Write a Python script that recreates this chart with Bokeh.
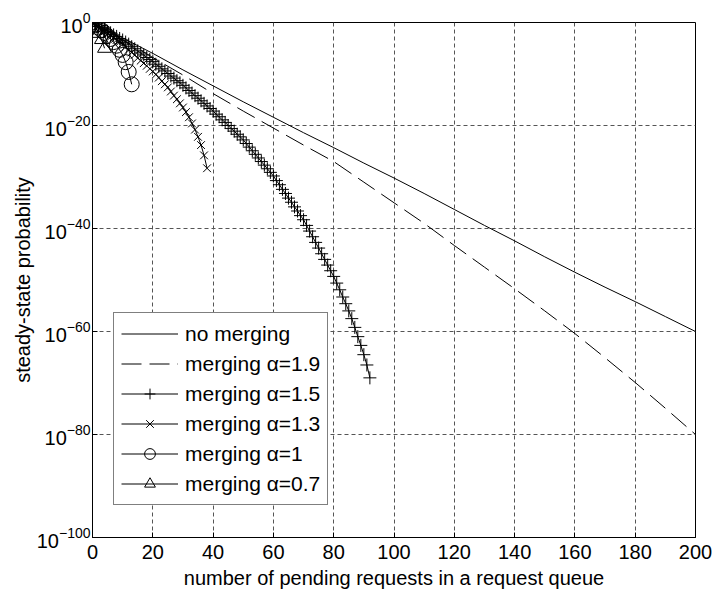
from bokeh.plotting import figure
from bokeh.models import Legend, LegendItem, FixedTicker, Range1d
from bokeh.embed import file_html
from bokeh.resources import INLINE

# Steady-state queue-length distributions, values are log10 of the probability
n_no_merge = [0, 10, 20, 30, 40, 50, 60, 70, 80, 90, 100,
              110, 120, 130, 140, 150, 160, 170, 180, 190, 200]
logp_no_merge = [0.0, -3.0, -6.0, -9.2, -12.3, -15.4, -18.4, -21.4, -24.3, -27.3, -30.2,
                 -33.2, -36.3, -39.4, -42.4, -45.5, -48.5, -51.4, -54.2, -57.1, -60.0]

n_a19 = [0, 10, 20, 30, 40, 50, 60, 70, 80, 90, 100,
         110, 120, 130, 140, 150, 160, 170, 180, 190, 200]
logp_a19 = [0.0, -3.3, -6.8, -10.2, -13.8, -17.2, -20.5, -23.8, -27.0, -31.0, -35.0,
            -39.0, -43.3, -47.5, -51.7, -56.0, -60.4, -65.1, -69.9, -74.9, -80.0]

n_a15 = list(range(0, 93))
logp_a15 = [0.0, -0.3, -0.7, -1.0, -1.4, -1.7, -2.0, -2.4, -2.7, -3.1, -3.4,
            -3.8, -4.2, -4.7, -5.1, -5.5, -5.9, -6.3, -6.8, -7.2, -7.6,
            -8.1, -8.5, -9.0, -9.4, -9.9, -10.4, -10.8, -11.3, -11.7, -12.2,
            -12.7, -13.2, -13.7, -14.2, -14.7, -15.2, -15.7, -16.2, -16.7, -17.2,
            -17.8, -18.3, -18.9, -19.4, -20.0, -20.6, -21.1, -21.7, -22.2, -22.8,
            -23.5, -24.2, -24.9, -25.6, -26.3, -27.0, -27.7, -28.4, -29.1, -29.8,
            -30.7, -31.5, -32.4, -33.2, -34.1, -34.9, -35.8, -36.6, -37.5, -38.3,
            -39.4, -40.5, -41.6, -42.7, -43.8, -44.9, -46.0, -47.1, -48.2, -49.3,
            -50.6, -51.9, -53.3, -54.6, -56.0, -57.5, -59.2, -61.0, -62.7, -64.5,
            -66.5, -69.0]

n_a13 = list(range(0, 39))
logp_a13 = [0.0, -0.4, -0.8, -1.3, -1.7, -2.1, -2.5, -2.9, -3.4, -3.8, -4.2,
            -4.7, -5.3, -5.8, -6.3, -6.9, -7.4, -7.9, -8.4, -9.0, -9.5,
            -10.1, -10.7, -11.4, -12.0, -12.6, -13.4, -14.2, -14.9, -15.7, -16.5,
            -17.4, -18.4, -19.6, -20.8, -22.2, -23.8, -25.8, -28.3]

n_a10 = list(range(0, 14))
logp_a10 = [0.0, -0.5, -1.0, -1.5, -2.0, -2.6, -3.2, -3.8, -4.5, -5.3, -6.3, -7.7, -9.6, -12.0]

n_a07 = [0, 1, 2, 3, 4]
logp_a07 = [0.0, -1.0, -2.1, -3.3, -5.0]

x_ticks = [0, 20, 40, 60, 80, 100, 120, 140, 160, 180, 200]
y_tick_decades = [-100, -80, -60, -40, -20, 0]

FONT = "Liberation Sans"
FS = "20px"


def prob(logs):
    return [10.0 ** v for v in logs]


p = figure(width=714, height=598, y_axis_type="log",
           x_range=Range1d(0, 200), y_range=Range1d(1e-100, 1.0),
           output_backend="svg", toolbar_location=None,
           min_border_left=92, min_border_right=19,
           min_border_top=22, min_border_bottom=61)

p.outline_line_color = "black"
p.outline_line_width = 1

xt = FixedTicker(ticks=x_ticks)
yt = FixedTicker(ticks=[10.0 ** d for d in y_tick_decades])
p.xaxis.ticker = xt
p.yaxis.ticker = yt
p.xgrid.ticker = xt
p.ygrid.ticker = yt

for ax in (p.xaxis[0], p.yaxis[0]):
    ax.axis_line_color = "black"
    ax.major_tick_line_color = "black"
    ax.major_tick_in = 5
    ax.major_tick_out = 0
    ax.minor_tick_line_color = None
    ax.major_label_text_font = FONT
    ax.major_label_text_font_size = FS
    ax.major_label_text_color = "black"
    ax.axis_label_text_font = FONT
    ax.axis_label_text_font_size = FS
    ax.axis_label_text_font_style = "normal"
    ax.axis_label_text_color = "black"

p.xaxis.axis_label = "number of pending requests in a request queue"
p.yaxis.axis_label = "steady-state probability"
p.xaxis.major_label_standoff = 7
p.yaxis.major_label_standoff = 2
p.xaxis.axis_label_standoff = 5
p.yaxis.axis_label_standoff = 0

for g in (p.xgrid[0], p.ygrid[0]):
    g.grid_line_color = "#555555"
    g.grid_line_dash = "4 3"
    g.grid_line_width = 1

BLACK = "black"
r_nm = p.line(n_no_merge, prob(logp_no_merge), line_color=BLACK, line_width=1)
r_19 = p.line(n_a19, prob(logp_a19), line_color=BLACK, line_width=1, line_dash="20 8")

r_15l = p.line(n_a15, prob(logp_a15), line_color=BLACK, line_width=1)
r_15m = p.scatter(n_a15, prob(logp_a15), marker="cross", size=13, line_color=BLACK, line_width=1)

r_13l = p.line(n_a13, prob(logp_a13), line_color=BLACK, line_width=1)
r_13m = p.scatter(n_a13, prob(logp_a13), marker="x", size=11, line_color=BLACK, line_width=1)

r_10l = p.line(n_a10, prob(logp_a10), line_color=BLACK, line_width=1)
r_10m = p.scatter(n_a10, prob(logp_a10), marker="circle", size=15, line_color=BLACK,
                  fill_color=None, line_width=1)

r_07l = p.line(n_a07, prob(logp_a07), line_color=BLACK, line_width=1)
r_07m = p.scatter(n_a07, prob(logp_a07), marker="triangle", size=14, line_color=BLACK,
                  fill_color=None, line_width=1)

legend = Legend(items=[
    LegendItem(label="no merging", renderers=[r_nm]),
    LegendItem(label="merging α=1.9", renderers=[r_19]),
    LegendItem(label="merging α=1.5", renderers=[r_15l, r_15m]),
    LegendItem(label="merging α=1.3", renderers=[r_13l, r_13m]),
    LegendItem(label="merging α=1", renderers=[r_10l, r_10m]),
    LegendItem(label="merging α=0.7", renderers=[r_07l, r_07m]),
], location=(21, 32), border_line_color="black", border_line_width=1,
   background_fill_color="white", background_fill_alpha=1.0,
   label_text_font=FONT, label_text_font_size="21px", label_text_color="black",
   glyph_width=57, glyph_height=27, label_height=27, spacing=3,
   padding=7, label_standoff=7, margin=0)
p.add_layout(legend)

open("out.html", "w").write(file_html(p, INLINE))
